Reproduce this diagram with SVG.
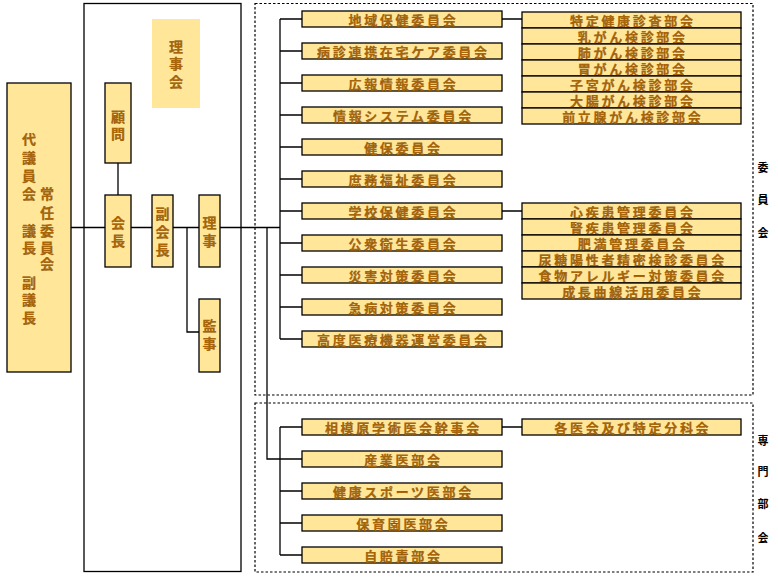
<svg xmlns="http://www.w3.org/2000/svg" width="778" height="582" viewBox="0 0 778 582">
<style>
.box{fill:#FFE699;stroke:#000;stroke-width:1.3}
.plain{fill:#FFE699}
.frame{fill:none;stroke:#000;stroke-width:1.3}
.dash{fill:none;stroke:#000;stroke-width:1.2;stroke-dasharray:2.5 2}
.ln{fill:none;stroke:#000;stroke-width:1.3}
.t{font-family:"Noto Sans CJK JP","Noto Sans CJK SC",sans-serif;font-weight:bold;font-size:13px;fill:#A8650A;stroke:#7a4500;stroke-width:0.2;text-anchor:middle;dominant-baseline:central;letter-spacing:2.7px}
.v{font-family:"Noto Sans CJK JP","Noto Sans CJK SC",sans-serif;font-weight:bold;font-size:14px;fill:#A8650A;stroke:#7a4500;stroke-width:0.2;text-anchor:middle;dominant-baseline:central}
.side{font-family:"Noto Sans CJK JP","Noto Sans CJK SC",sans-serif;font-weight:bold;font-size:11px;fill:#000;text-anchor:middle;dominant-baseline:central}
</style>
<rect width="778" height="582" fill="#fff"/>
<g id="frames">
<rect class="frame" x="84" y="3.5" width="157" height="568"/>
<rect class="dash" x="255" y="3.5" width="498" height="391.5"/>
<rect class="dash" x="255" y="403" width="498" height="169"/>
</g>
<g id="connectors">
<path class="ln" d="M71 227.5H105M118 163V195M131 227.5H152M173 227.5H199M187 227.5V332H199M220 227.5H280"/>
<path class="ln" d="M280 19V339M280 19H302M280 51H302M280 83H302M280 115H302M280 147H302M280 179H302M280 211H302M280 243H302M280 275H302M280 307H302M280 339H302"/>
<path class="ln" d="M267 227.5V459H302M280 427V555M280 427H302M280 491H302M280 523H302M280 555H302"/>
<path class="ln" d="M502 19H522M502 211H522M502 427H522"/>
</g>
<g id="daigiinkai">
<rect class="box" x="7" y="83" width="64" height="289"/>
<text class="v"><tspan x="29" y="138">代</tspan><tspan x="29" y="157">議</tspan><tspan x="29" y="175">員</tspan><tspan x="29" y="193">会</tspan><tspan x="29" y="230">議</tspan><tspan x="29" y="247">長</tspan><tspan x="29" y="282">副</tspan><tspan x="29" y="299">議</tspan><tspan x="29" y="317">長</tspan></text>
<text class="v"><tspan x="47" y="193">常</tspan><tspan x="47" y="212">任</tspan><tspan x="47" y="230">委</tspan><tspan x="47" y="247">員</tspan><tspan x="47" y="263">会</tspan></text>
</g>
<g id="rijikai">
<rect class="plain" x="152" y="19" width="48" height="89"/>
<text class="v"><tspan x="176" y="46">理</tspan><tspan x="176" y="63">事</tspan><tspan x="176" y="81">会</tspan></text>
</g>
<g id="komon">
<rect class="box" x="105" y="83" width="26" height="80"/>
<text class="v"><tspan x="118" y="116">顧</tspan><tspan x="118" y="133">問</tspan></text>
</g>
<g id="kaicho">
<rect class="box" x="105" y="195" width="26" height="72"/>
<text class="v"><tspan x="118" y="222">会</tspan><tspan x="118" y="240">長</tspan></text>
</g>
<g id="fukukaicho">
<rect class="box" x="152" y="195" width="21" height="72"/>
<text class="v"><tspan x="162.5" y="213">副</tspan><tspan x="162.5" y="231">会</tspan><tspan x="162.5" y="249">長</tspan></text>
</g>
<g id="riji">
<rect class="box" x="199" y="195" width="21" height="72"/>
<text class="v"><tspan x="209.5" y="222">理</tspan><tspan x="209.5" y="240">事</tspan></text>
</g>
<g id="kanji">
<rect class="box" x="199" y="299" width="21" height="73"/>
<text class="v"><tspan x="209.5" y="325">監</tspan><tspan x="209.5" y="343">事</tspan></text>
</g>
<g id="committees">
<g id="c1"><rect class="box" x="302" y="11" width="200" height="16"/><text class="t" x="403.4" y="19">地域保健委員会</text></g>
<g id="c2"><rect class="box" x="302" y="43" width="200" height="16"/><text class="t" x="403.4" y="51">病診連携在宅ケア委員会</text></g>
<g id="c3"><rect class="box" x="302" y="75" width="200" height="16"/><text class="t" x="403.4" y="83">広報情報委員会</text></g>
<g id="c4"><rect class="box" x="302" y="107" width="200" height="16"/><text class="t" x="403.4" y="115">情報システム委員会</text></g>
<g id="c5"><rect class="box" x="302" y="139" width="200" height="16"/><text class="t" x="403.4" y="147">健保委員会</text></g>
<g id="c6"><rect class="box" x="302" y="171" width="200" height="16"/><text class="t" x="403.4" y="179">庶務福祉委員会</text></g>
<g id="c7"><rect class="box" x="302" y="203" width="200" height="16"/><text class="t" x="403.4" y="211">学校保健委員会</text></g>
<g id="c8"><rect class="box" x="302" y="235" width="200" height="16"/><text class="t" x="403.4" y="243">公衆衛生委員会</text></g>
<g id="c9"><rect class="box" x="302" y="267" width="200" height="16"/><text class="t" x="403.4" y="275">災害対策委員会</text></g>
<g id="c10"><rect class="box" x="302" y="299" width="200" height="16"/><text class="t" x="403.4" y="307">急病対策委員会</text></g>
<g id="c11"><rect class="box" x="302" y="331" width="200" height="16"/><text class="t" x="403.4" y="339">高度医療機器運営委員会</text></g>
</g>
<g id="sub-chiiki">
<g id="s1"><rect class="box" x="522" y="12" width="219" height="16"/><text class="t" x="632.8" y="20">特定健康診査部会</text></g>
<g id="s2"><rect class="box" x="522" y="28" width="219" height="16"/><text class="t" x="632.8" y="36">乳がん検診部会</text></g>
<g id="s3"><rect class="box" x="522" y="44" width="219" height="16"/><text class="t" x="632.8" y="52">肺がん検診部会</text></g>
<g id="s4"><rect class="box" x="522" y="60" width="219" height="16"/><text class="t" x="632.8" y="68">胃がん検診部会</text></g>
<g id="s5"><rect class="box" x="522" y="76" width="219" height="16"/><text class="t" x="632.8" y="84">子宮がん検診部会</text></g>
<g id="s6"><rect class="box" x="522" y="92" width="219" height="16"/><text class="t" x="632.8" y="100">大腸がん検診部会</text></g>
<g id="s7"><rect class="box" x="522" y="108" width="219" height="16"/><text class="t" x="632.8" y="116">前立腺がん検診部会</text></g>
</g>
<g id="sub-gakko">
<g id="g1"><rect class="box" x="522" y="203" width="219" height="16"/><text class="t" x="632.8" y="211">心疾患管理委員会</text></g>
<g id="g2"><rect class="box" x="522" y="219" width="219" height="16"/><text class="t" x="632.8" y="227">腎疾患管理委員会</text></g>
<g id="g3"><rect class="box" x="522" y="235" width="219" height="16"/><text class="t" x="632.8" y="243">肥満管理委員会</text></g>
<g id="g4"><rect class="box" x="522" y="251" width="219" height="16"/><text class="t" x="632.8" y="259">尿糖陽性者精密検診委員会</text></g>
<g id="g5"><rect class="box" x="522" y="267" width="219" height="16"/><text class="t" x="632.8" y="275">食物アレルギー対策委員会</text></g>
<g id="g6"><rect class="box" x="522" y="283" width="219" height="16"/><text class="t" x="632.8" y="291">成長曲線活用委員会</text></g>
</g>
<g id="senmon">
<g id="b1"><rect class="box" x="302" y="419" width="200" height="16"/><text class="t" x="403.4" y="427">相模原学術医会幹事会</text></g>
<g id="b2"><rect class="box" x="302" y="451" width="200" height="16"/><text class="t" x="403.4" y="459">産業医部会</text></g>
<g id="b3"><rect class="box" x="302" y="483" width="200" height="16"/><text class="t" x="403.4" y="491">健康スポーツ医部会</text></g>
<g id="b4"><rect class="box" x="302" y="515" width="200" height="16"/><text class="t" x="403.4" y="523">保育園医部会</text></g>
<g id="b5"><rect class="box" x="302" y="547" width="200" height="16"/><text class="t" x="403.4" y="555">自賠責部会</text></g>
<g id="b6"><rect class="box" x="522" y="419" width="219" height="16"/><text class="t" x="632.8" y="427">各医会及び特定分科会</text></g>
</g>
<g id="labels">
<text class="side"><tspan x="763" y="167">委</tspan><tspan x="763" y="199">員</tspan><tspan x="763" y="232">会</tspan></text>
<text class="side"><tspan x="763" y="440">専</tspan><tspan x="763" y="471">門</tspan><tspan x="763" y="503">部</tspan><tspan x="763" y="537">会</tspan></text>
</g>
</svg>
